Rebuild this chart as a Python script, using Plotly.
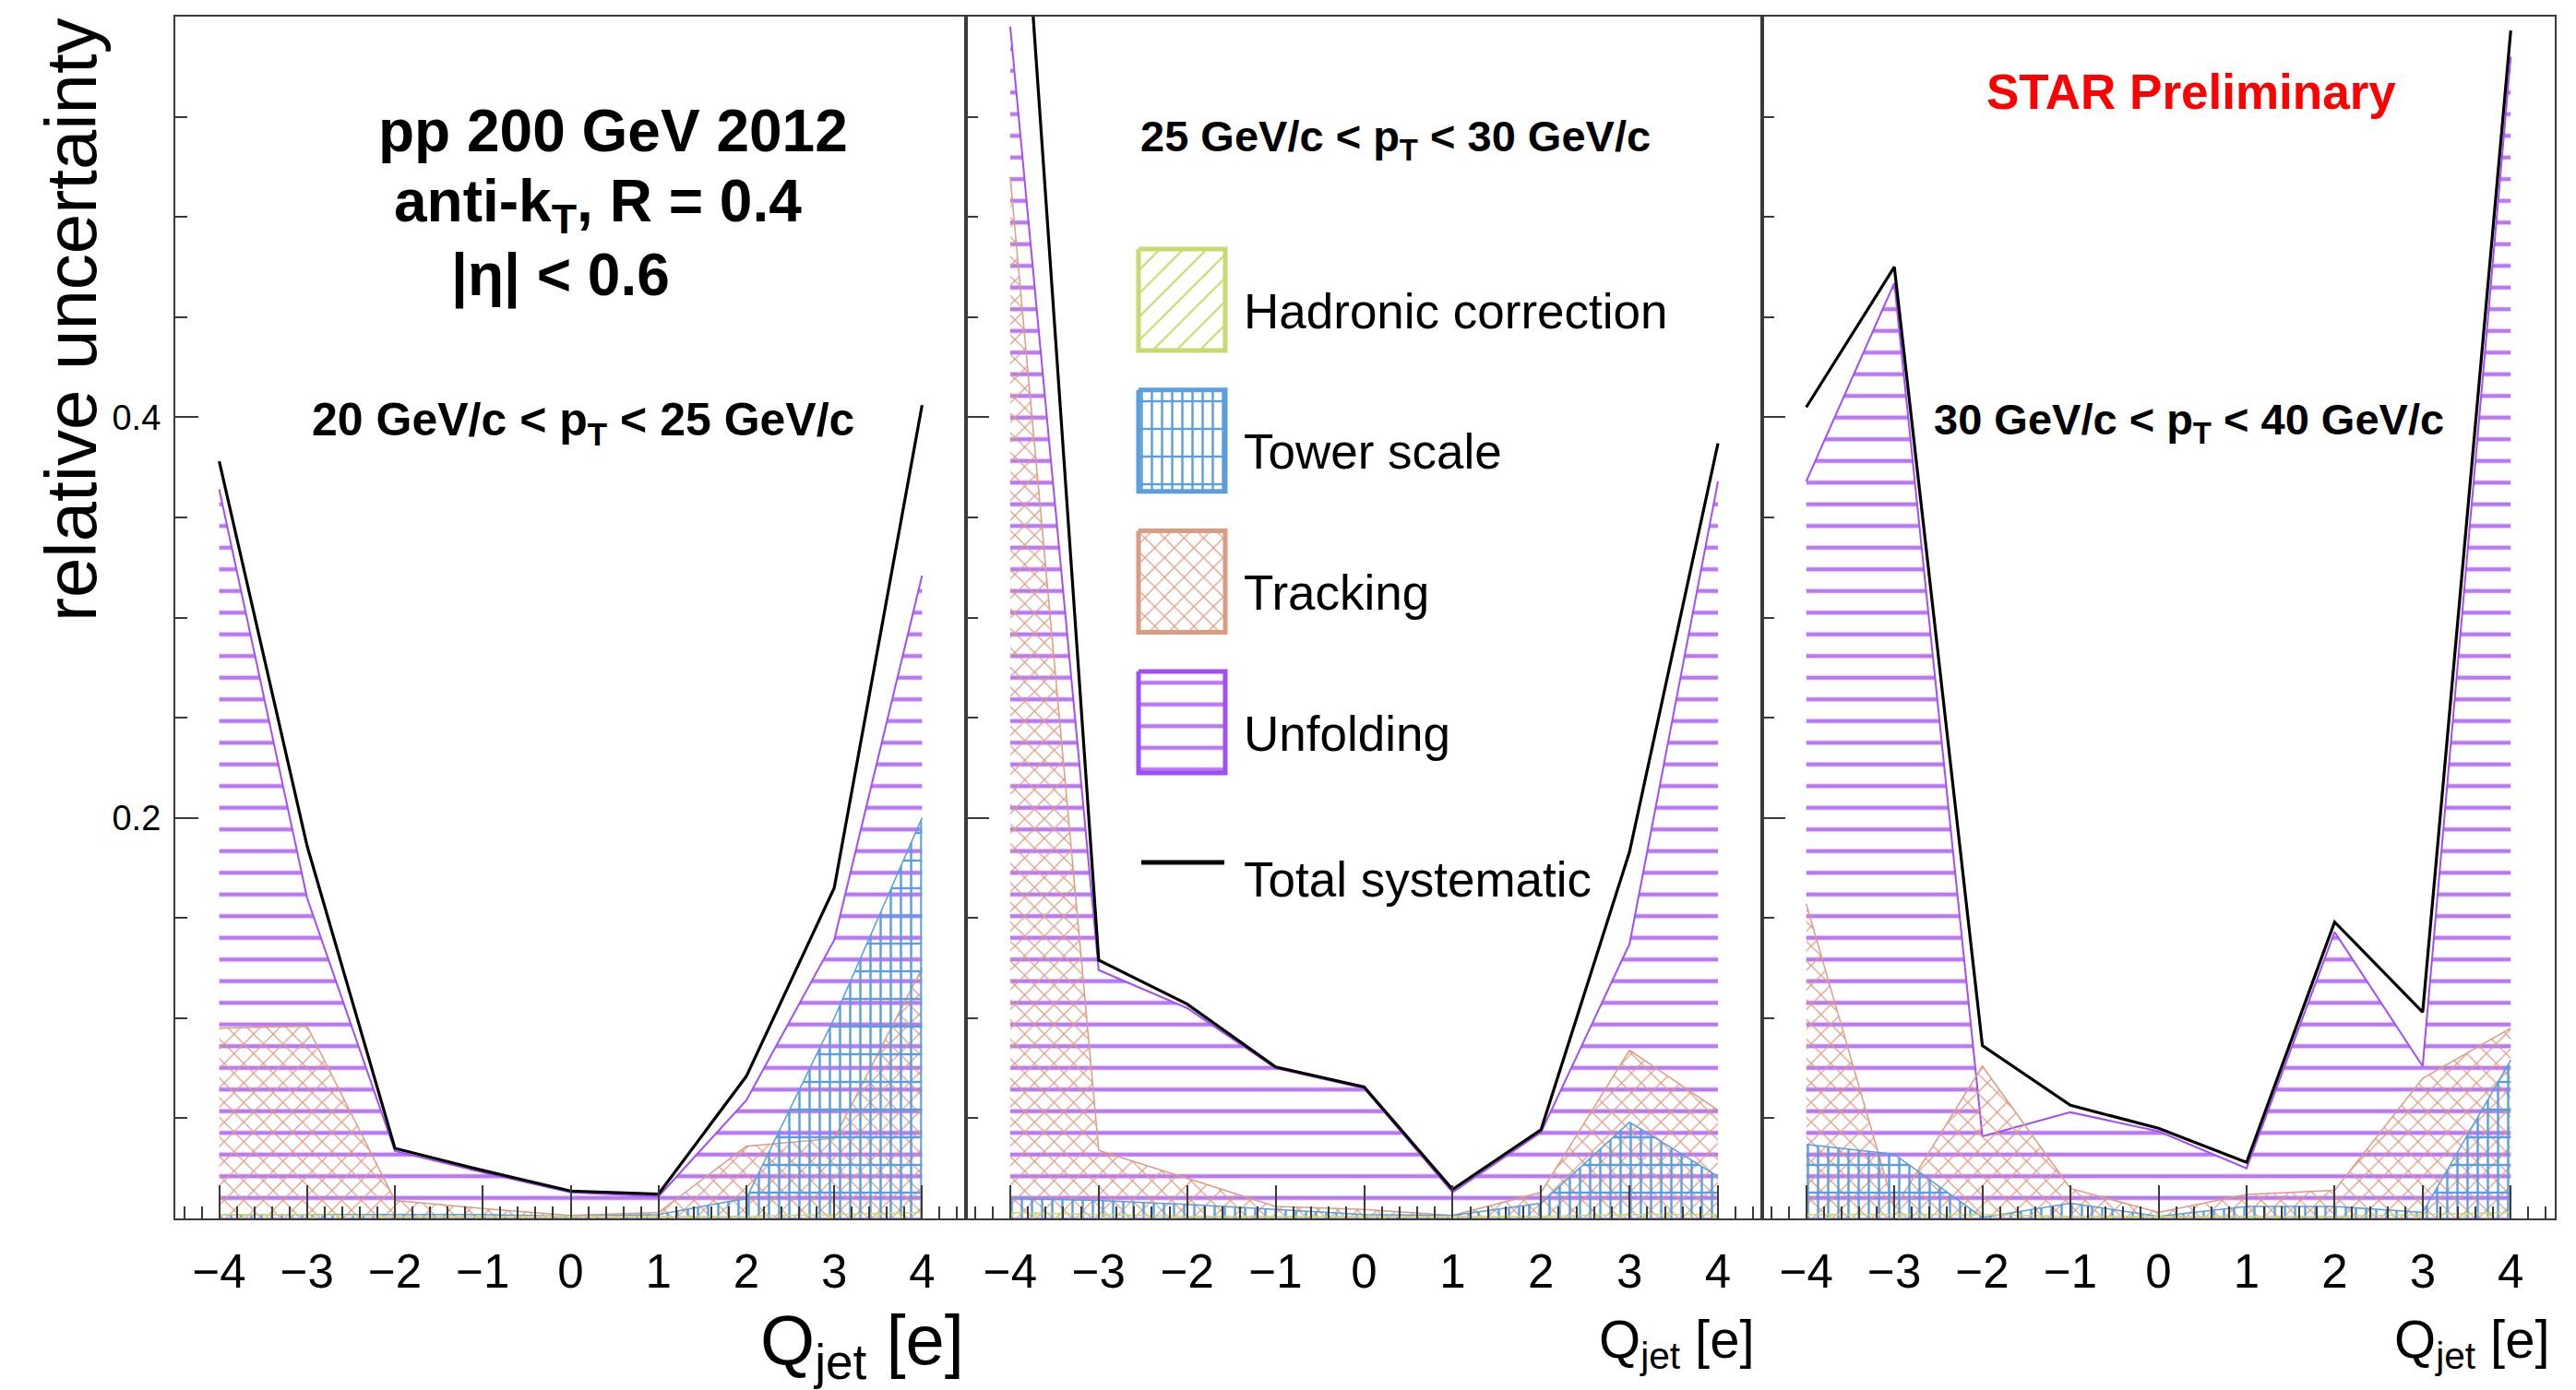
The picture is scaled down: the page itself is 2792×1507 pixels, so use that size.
import plotly.graph_objects as go

W, H = 2792, 1507
FONT = "Liberation Sans"

# Jet charge bins
q_jet = [-4, -3, -2, -1, 0, 1, 2, 3, 4]

# 20 < pT < 25 GeV/c
total_20_25 = [0.378, 0.186, 0.035, 0.024, 0.0137, 0.0122, 0.071, 0.165, 0.406]
unfold_20_25 = [0.364, 0.160, 0.0336, 0.023, 0.013, 0.011, 0.059, 0.139, 0.321]
track_20_25 = [0.095, 0.096, 0.009, 0.005, 0.0015, 0.003, 0.036, 0.040, 0.125]
tower_20_25 = [0.002, 0.002, 0.002, 0.002, 0.001, 0.002, 0.010, 0.100, 0.200]
hadr_20_25 = [0.002, 0.002, 0.001, 0.001, 0.001, 0.001, 0.001, 0.002, 0.003]

# 25 < pT < 30 GeV/c
total_25_30 = [0.765, 0.129, 0.107, 0.0756, 0.0656, 0.0145, 0.0443, 0.183, 0.387]
unfold_25_30 = [0.595, 0.124, 0.105, 0.075, 0.065, 0.013, 0.043, 0.137, 0.368]
track_25_30 = [0.520, 0.034, 0.020, 0.006, 0.0045, 0.0015, 0.013, 0.084, 0.054]
tower_25_30 = [0.010, 0.009, 0.007, 0.0045, 0.002, 0.0015, 0.0076, 0.048, 0.021]
hadr_25_30 = [0.003, 0.002, 0.001, 0.001, 0.001, 0.001, 0.001, 0.002, 0.002]

# 30 < pT < 40 GeV/c
total_30_40 = [0.405, 0.475, 0.0863, 0.0565, 0.045, 0.028, 0.148, 0.103, 0.593]
unfold_30_40 = [0.368, 0.467, 0.041, 0.053, 0.0435, 0.025, 0.143, 0.076, 0.580]
track_30_40 = [0.157, 0.005, 0.076, 0.015, 0.003, 0.012, 0.014, 0.070, 0.095]
tower_30_40 = [0.037, 0.032, 0.0005, 0.0076, 0.001, 0.006, 0.006, 0.003, 0.079]
hadr_30_40 = [0.002, 0.002, 0.002, 0.001, 0.001, 0.001, 0.001, 0.002, 0.003]

pt_labels = [
    "20 GeV/c < p<sub>T</sub> < 25 GeV/c",
    "25 GeV/c < p<sub>T</sub> < 30 GeV/c",
    "30 GeV/c < p<sub>T</sub> < 40 GeV/c",
]
legend_names = ["Hadronic correction", "Tower scale", "Tracking", "Unfolding", "Total systematic"]

# colours and hatch styles
C_HADR = "#c9d96e"
C_TOWER = "#5a9ede"
C_TRACK = "#dc9c82"
C_UNF = "#bb78f5"
C_UNF_LINE = "#a24ef6"

HATCH = {
    "unf": [dict(shape="-", size=23.5, solidity=0.19)],
    "track": [dict(shape="x", size=15, solidity=0.16)],
    "tower": [dict(shape="|", size=11, solidity=0.22), dict(shape="-", size=30, solidity=0.08)],
    "hadr": [dict(shape="/", size=18, solidity=0.12)],
}

panels = [
    dict(total=total_20_25, unf=unfold_20_25, track=track_20_25, tower=tower_20_25, hadr=hadr_20_25),
    dict(total=total_25_30, unf=unfold_25_30, track=track_25_30, tower=tower_25_30, hadr=hadr_25_30),
    dict(total=total_30_40, unf=unfold_30_40, track=track_30_40, tower=tower_30_40, hadr=hadr_30_40),
]

# frame edges in pixels
frame_x = [(190, 1047), (1047, 1910), (1910, 2769)]
frame_top, frame_bot = 18, 1321

fig = go.Figure()


def hatched(x, y, color, line_color, key, xa, ya, lw=2):
    out = []
    for k, pat in enumerate(HATCH[key]):
        out.append(go.Scatter(
            x=x, y=y, mode="lines", xaxis=xa, yaxis=ya,
            line=dict(color=line_color, width=lw if k == 0 else 0),
            fill="tozeroy", fillcolor="rgba(0,0,0,0)",
            fillpattern=dict(shape=pat["shape"], size=pat["size"], solidity=pat["solidity"],
                             fgcolor=color, bgcolor="rgba(0,0,0,0)", fillmode="replace"),
            showlegend=False, hoverinfo="skip"))
    return out


for i, p in enumerate(panels):
    xa = "x" if i == 0 else f"x{i+1}"
    ya = "y" if i == 0 else f"y{i+1}"
    for tr in hatched(q_jet, p["unf"], C_UNF, C_UNF_LINE, "unf", xa, ya):
        fig.add_trace(tr)
    for tr in hatched(q_jet, p["track"], C_TRACK, C_TRACK, "track", xa, ya, lw=1.5):
        fig.add_trace(tr)
    for tr in hatched(q_jet, p["tower"], C_TOWER, C_TOWER, "tower", xa, ya, lw=1.5):
        fig.add_trace(tr)
    for tr in hatched(q_jet, p["hadr"], C_HADR, C_HADR, "hadr", xa, ya, lw=1.5):
        fig.add_trace(tr)
    fig.add_trace(go.Scatter(x=q_jet, y=p["total"], mode="lines", xaxis=xa, yaxis=ya,
                             line=dict(color="black", width=3.2), showlegend=False, hoverinfo="skip"))

# legend drawn as large hatched swatches on a pixel-space overlay axis
leg_x0, leg_x1 = 1234, 1328
leg_top, leg_pitch, leg_h = 270, 152.7, 110
leg_text_x = 1346
swatches = [("hadr", C_HADR, C_HADR), ("tower", C_TOWER, C_TOWER), ("track", C_TRACK, C_TRACK), ("unf", C_UNF, C_UNF_LINE)]
for j, (key, col, lcol) in enumerate(swatches):
    t = leg_top + j * leg_pitch
    bx = [leg_x0, leg_x1, leg_x1, leg_x0, leg_x0]
    by = [t, t, t + leg_h, t + leg_h, t]
    for k, pat in enumerate(HATCH[key]):
        fig.add_trace(go.Scatter(
            x=bx, y=by, mode="lines", xaxis="x4", yaxis="y4",
            line=dict(color=lcol, width=5 if k == 0 else 0),
            fill="toself", fillcolor="rgba(0,0,0,0)",
            fillpattern=dict(shape=pat["shape"], size=pat["size"], solidity=pat["solidity"],
                             fgcolor=col, bgcolor="rgba(0,0,0,0)", fillmode="replace"),
            showlegend=False, hoverinfo="skip"))
    fig.add_annotation(x=leg_text_x, y=t + leg_h / 2 + 12, xref="x4", yref="y4", text=legend_names[j],
                       showarrow=False, xanchor="left", yanchor="middle",
                       font=dict(family=FONT, size=53, color="black"))
tot_y = 935
fig.add_trace(go.Scatter(x=[leg_x0 + 3, leg_x1 - 1], y=[tot_y, tot_y], mode="lines", xaxis="x4", yaxis="y4",
                         line=dict(color="black", width=5), showlegend=False, hoverinfo="skip"))
fig.add_annotation(x=leg_text_x, y=tot_y + 18, xref="x4", yref="y4", text=legend_names[4],
                   showarrow=False, xanchor="left", yanchor="middle",
                   font=dict(family=FONT, size=53, color="black"))

axis_col = "#3a3a3a"
for i, (l, r) in enumerate(frame_x):
    xname = "xaxis" if i == 0 else f"xaxis{i+1}"
    yname = "yaxis" if i == 0 else f"yaxis{i+1}"
    xa_anchor = "y" if i == 0 else f"y{i+1}"
    ya_anchor = "x" if i == 0 else f"x{i+1}"
    fig.layout[xname] = dict(
        domain=[l / W, r / W], anchor=xa_anchor, range=[-4.5, 4.5],
        showgrid=False, zeroline=False, showline=True, mirror=True,
        linecolor=axis_col, linewidth=2.2,
        ticks="inside", tickmode="linear", tick0=0, dtick=1, ticklen=36, tickwidth=2, tickcolor=axis_col,
        minor=dict(ticks="inside", tickmode="linear", tick0=0, dtick=0.2, ticklen=13, tickwidth=2,
                   tickcolor=axis_col, showgrid=False),
        tickfont=dict(family=FONT, size=51, color="black"), ticklabelstandoff=12,
    )
    fig.layout[yname] = dict(
        domain=[1 - frame_bot / H, 1 - frame_top / H], anchor=ya_anchor, range=[0, 0.6],
        showgrid=False, zeroline=False, showline=True, mirror=True,
        linecolor=axis_col, linewidth=2.2,
        ticks="inside", tickmode="array", tickvals=[0, 0.2, 0.4, 0.6], ticktext=["", "0.2", "0.4", ""],
        ticklen=25, tickwidth=2, tickcolor=axis_col,
        minor=dict(ticks="inside", tickmode="linear", tick0=0, dtick=0.05, ticklen=13, tickwidth=2,
                   tickcolor=axis_col, showgrid=False),
        showticklabels=(i == 0),
        tickfont=dict(family=FONT, size=38, color="black"), ticklabelstandoff=6,
    )

fig.layout["xaxis4"] = dict(domain=[0, 1], range=[0, W], visible=False, anchor="y4", fixedrange=True)
fig.layout["yaxis4"] = dict(domain=[0, 1], range=[H, 0], visible=False, anchor="x4", fixedrange=True)


def px(xp, yp):
    return xp / W, 1 - yp / H


def note(xp, yp, text, size, color="black", anchor="center", angle=0):
    x, y = px(xp, yp)
    fig.add_annotation(x=x, y=y, xref="paper", yref="paper", text=text, showarrow=False,
                       xanchor=anchor, yanchor="middle", textangle=angle,
                       font=dict(family=FONT, size=size, color=color))


note(664, 142, "<b>pp 200 GeV 2012</b>", 64)
note(648, 222, "<b>anti-k<sub>T</sub>, R = 0.4</b>", 64)
note(607, 299, "<b>|η| < 0.6</b>", 64)
note(632, 458, "<b>" + pt_labels[0] + "</b>", 50)
note(1512, 151, "<b>" + pt_labels[1] + "</b>", 47)
note(2372, 458, "<b>" + pt_labels[2] + "</b>", 47)
note(2375, 100, "<b>STAR Preliminary</b>", 53, color="#ff0000")

# axis titles
note(77, 347, "relative uncertainty", 78, angle=-90)
note(1047, 1458, "Q<sub>jet</sub> [e]", 76, anchor="right")
note(1904, 1456, "Q<sub>jet</sub> [e]", 58, anchor="right")
note(2766, 1456, "Q<sub>jet</sub> [e]", 58, anchor="right")

fig.update_layout(width=W, height=H, margin=dict(l=0, r=0, t=0, b=0),
                  paper_bgcolor="white", plot_bgcolor="rgba(0,0,0,0)", showlegend=False)

fig.write_html("out.html")
